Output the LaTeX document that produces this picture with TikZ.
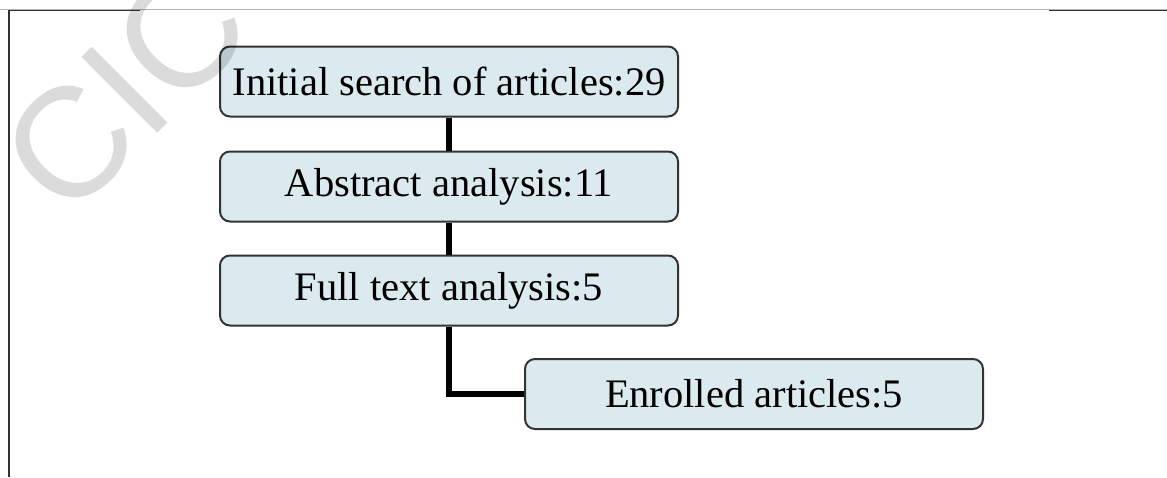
\documentclass[tikz,border=0pt]{standalone}
\usepackage{fontspec}
\setmainfont{Liberation Serif}
\newfontfamily\marksans{Liberation Sans}
\definecolor{boxfill}{HTML}{DAEAEE}
\definecolor{boxline}{HTML}{333333}
\tikzset{
  stage/.style={draw=boxline, line width=1pt, fill=boxfill, rounded corners=5pt,
    minimum width=229pt, minimum height=35pt, inner sep=0pt,
    font=\fontsize{20.25}{24}\selectfont},
  link/.style={line width=3pt},
  rule/.style={line width=0.8pt, black!80},
}
\begin{document}
\begin{tikzpicture}[x=0.5pt, y=-0.5pt]
  \useasboundingbox (0,0) rectangle (1167,477);
  % frame
  \draw[gray!60, line width=0.6pt] (0,9.5) -- (1167,9.5);
  \draw[rule] (9,10.5) -- (140,10.5);
  \draw[rule] (1049,10.5) -- (1167,10.5);
  \draw[rule] (9,10) -- (9,477);
  % stages
  \node[stage] (search) at (449,81.5) {Initial search of articles:29};
  \node[stage] (abstract) at (449,186.5) {Abstract analysis:11};
  \node[stage] (fulltext) at (449,290.5) {Full text analysis:5};
  \node[stage] (enrolled) at (754,394) {Enrolled articles:5};
  \draw[link] (search) -- (abstract);
  \draw[link] (abstract) -- (fulltext);
  \draw[link] (fulltext.south) |- (enrolled.west);
  % watermark
  \node[rotate=45, text=black, opacity=0.14, inner sep=0pt,
    font=\marksans\fontsize{78}{80}\selectfont] (mark) at (125,90) {CIC};
\end{tikzpicture}
\end{document}
